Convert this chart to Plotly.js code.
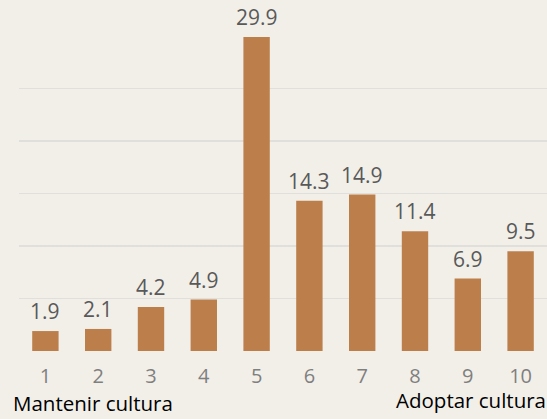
<!DOCTYPE html>
<html><head><meta charset="utf-8">
<script src="https://cdn.plot.ly/plotly-3.0.1.min.js"></script>
<style>html,body{margin:0;padding:0;background:#F2EFE9;}#chart{width:547px;height:419px;}</style>
</head><body><div id="chart"></div>
<script>
var categories = ['1','2','3','4','5','6','7','8','9','10'];
var values = [1.9, 2.1, 4.2, 4.9, 29.9, 14.3, 14.9, 11.4, 6.9, 9.5];
var leftLabel = 'Mantenir cultura';
var rightLabel = 'Adoptar cultura';

var font = '"Open Sans", "Noto Sans", sans-serif';
var annotations = categories.map(function(c, i){
  return {x: i, y: values[i], xref: 'x', yref: 'y', text: values[i].toFixed(1),
    showarrow: false, yanchor: 'bottom', yshift: 4,
    font: {family: font, size: 21, color: '#595959'}};
});
annotations.push({xref: 'paper', yref: 'paper', x: 0, y: -0.216, xanchor: 'left', yanchor: 'bottom', xshift: -8,
  text: leftLabel, showarrow: false, font: {family: font, size: 20.5, color: '#000000'}});
annotations.push({xref: 'paper', yref: 'paper', x: 1, y: -0.205, xanchor: 'right', yanchor: 'bottom', xshift: 1,
  text: rightLabel, showarrow: false, font: {family: font, size: 20.5, color: '#000000'}});

Plotly.newPlot('chart', [{
  type: 'bar', x: categories, y: values,
  marker: {color: '#BC7F4C', line: {width: 0}},
  hoverinfo: 'none'
}], {
  width: 547, height: 419,
  margin: {l: 18.5, r: 0, t: 36, b: 68, pad: 0},
  paper_bgcolor: '#F2EFE9', plot_bgcolor: 'rgba(0,0,0,0)',
  bargap: 0.5,
  showlegend: false,
  xaxis: {type: 'category', range: [-0.5, 9.5], showgrid: false, zeroline: false, showline: false,
    ticks: '', ticklabelstandoff: 11, tickfont: {family: font, size: 20, color: '#7F7F7F'}, fixedrange: true},
  yaxis: {range: [0, 30], dtick: 5, showgrid: true, gridcolor: '#E1DFDB', gridwidth: 1.5,
    zeroline: false, showticklabels: false, showline: false, ticks: '', fixedrange: true},
  annotations: annotations
}, {displayModeBar: false, staticPlot: true});
</script></body></html>
